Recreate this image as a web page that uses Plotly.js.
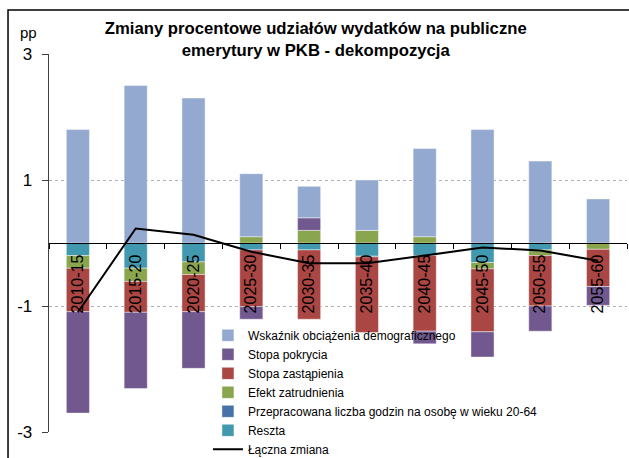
<!DOCTYPE html>
<html>
<head>
<meta charset="utf-8">
<script src="https://cdn.plot.ly/plotly-3.0.1.min.js"></script>
<style>html,body{margin:0;padding:0;background:#fff;}#chart{width:629px;height:458px;}</style>
</head>
<body>
<div id="chart"></div>
<script>
// ---- data ----
const categories = ['2010-15','2015-20','2020-25','2025-30','2030-35','2035-40','2040-45','2045-50','2050-55','2055-60'];
const wskaznik          = [1.80, 2.50, 2.30, 1.00, 0.50, 0.80, 1.40, 1.80, 1.30, 0.70];
const stopaPokrycia     = [-1.61, -1.21, -0.90, -0.20, 0.20, 0.00, -0.20, -0.40, -0.40, -0.30];
const stopaZastapienia  = [-0.69, -0.49, -0.59, -0.90, -1.10, -1.20, -1.20, -1.00, -0.80, -0.59];
const efektZatrudnienia = [-0.20, -0.21, -0.20, 0.10, 0.20, 0.20, 0.10, -0.10, -0.09, -0.10];
const przepracowana     = [0.00, 0.00, 0.00, 0.00, 0.00, -0.01, 0.00, 0.00, 0.00, 0.00];
const reszta            = [-0.20, -0.40, -0.30, -0.11, -0.11, -0.21, -0.20, -0.31, -0.11, 0.00];
const lacznaZmiana      = [-1.10, 0.23, 0.13, -0.14, -0.32, -0.32, -0.20, -0.07, -0.12, -0.28];
const yTickVals = [-3, -1, 1, 3];

const seriesNames = {
  wskaznik: 'Wskaźnik obciążenia demograficznego',
  pokrycia: 'Stopa pokrycia',
  zastapienia: 'Stopa zastąpienia',
  efekt: 'Efekt zatrudnienia',
  przepr: 'Przepracowana liczba godzin na osobę w wieku 20-64',
  reszta: 'Reszta',
  laczna: 'Łączna zmiana'
};

const sans = "'Liberation Sans', Arial, sans-serif";

function bar(name, y, color, rank) {
  return {
    type: 'bar', name: name, x: categories, y: y,
    marker: {color: color, line: {color: 'rgba(255,255,255,0.55)', width: 0.8}},
    width: 0.4, legendrank: rank, hoverinfo: 'name+y'
  };
}

// stacking order (closest to zero first) follows the reference
const data = [
  bar(seriesNames.reszta, reszta, '#4198AF', 6),
  bar(seriesNames.przepr, przepracowana, '#4572A7', 5),
  bar(seriesNames.efekt, efektZatrudnienia, '#89A54E', 4),
  bar(seriesNames.zastapienia, stopaZastapienia, '#AA4643', 3),
  bar(seriesNames.pokrycia, stopaPokrycia, '#71588F', 2),
  bar(seriesNames.wskaznik, wskaznik, '#93A9CF', 1),
  {
    type: 'scatter', mode: 'lines', name: seriesNames.laczna,
    x: categories, y: lacznaZmiana,
    line: {color: '#000000', width: 2}, legendrank: 7
  }
];

const layout = {
  width: 629, height: 458,
  margin: {l: 49, r: 2, t: 54, b: 26, pad: 0, autoexpand: false},
  paper_bgcolor: '#ffffff', plot_bgcolor: 'rgba(0,0,0,0)',
  barmode: 'relative', bargap: 0.6,
  showlegend: true,
  title: {
    text: 'Zmiany procentowe udziałów wydatków na publiczne<br>emerytury w PKB - dekompozycja',
    font: {family: sans, size: 16.7, color: '#000000', weight: 700},
    x: 0.502, xref: 'container', xanchor: 'center',
    y: 0.926, yref: 'container', yanchor: 'top'
  },
  xaxis: {
    type: 'category',
    anchor: 'free', position: 0.5,
    showline: true, linecolor: '#000000', linewidth: 1.3,
    showgrid: false, zeroline: false,
    ticks: 'outside', tickson: 'boundaries', ticklen: 5, tickcolor: '#000000', tickwidth: 1,
    tickangle: -90, ticklabelstandoff: 4,
    tickfont: {family: sans, size: 16, color: '#000000'},
    range: [-0.5, 9.5]
  },
  yaxis: {
    range: [-3, 3], tickvals: yTickVals, ticktext: yTickVals.map(String),
    showline: true, linecolor: '#404040', linewidth: 1.3,
    ticks: 'outside', ticklen: 6, tickcolor: '#404040',
    ticklabelstandoff: 6,
    showgrid: true, gridcolor: '#b0b0b0', griddash: 'dot', gridwidth: 1,
    zeroline: false,
    tickfont: {family: sans, size: 17, color: '#000000'}
  },
  legend: {
    x: 0.275, xanchor: 'left', y: 0.294, yanchor: 'top',
    bgcolor: 'rgba(0,0,0,0)', borderwidth: 0,
    font: {family: sans, size: 12, color: '#000000'},
    tracegroupgap: 0, itemwidth: 30, traceorder: 'normal'
  },
  annotations: [
    {text: 'pp', xref: 'paper', yref: 'paper', x: -0.035, y: 1.058,
     xanchor: 'center', yanchor: 'middle', showarrow: false,
     font: {family: sans, size: 15, color: '#000000'}}
  ],
  shapes: [
    {type: 'rect', xref: 'paper', yref: 'paper', x0: -0.0709, x1: 1.2, y0: -0.3, y1: 1.1164,
     line: {color: '#000000', width: 1.5}, fillcolor: 'rgba(0,0,0,0)', layer: 'above'}
  ]
};

Plotly.newPlot('chart', data, layout, {displayModeBar: false, staticPlot: true});
</script>
</body>
</html>
